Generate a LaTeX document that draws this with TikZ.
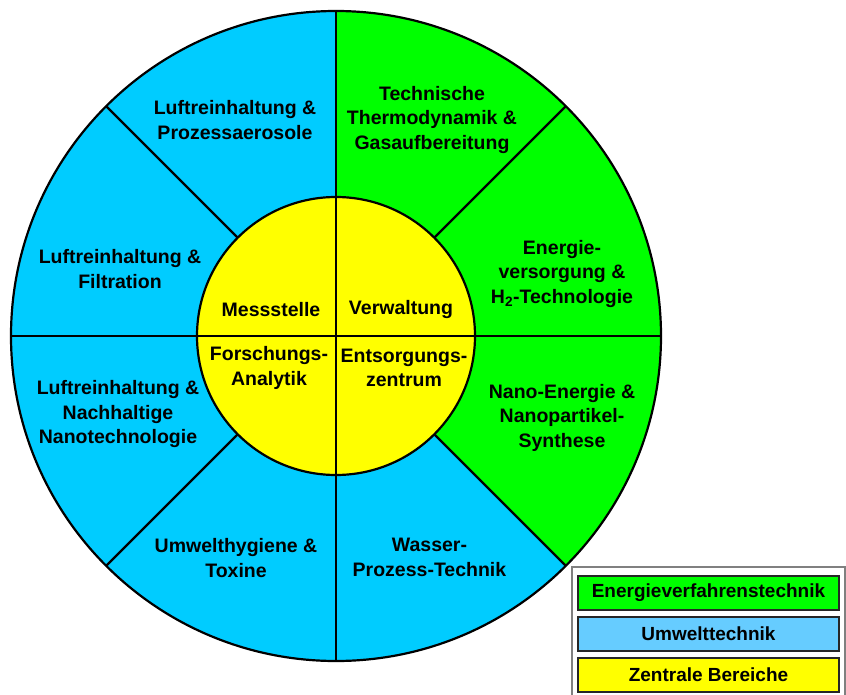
\documentclass[tikz,border=0pt]{standalone}
\usepackage{fontspec}
\setmainfont{Liberation Sans}
\definecolor{diskblue}{RGB}{0,204,255}
\definecolor{diskgreen}{RGB}{0,255,0}
\definecolor{diskyellow}{RGB}{255,255,0}
\definecolor{legblue}{RGB}{102,204,255}
\begin{document}
\begin{tikzpicture}[x=1pt,y=1pt,
  seg/.style={line width=2.2pt, draw=black},
  lbl/.style={align=center, font=\fontsize{19.5}{24.5}\selectfont\bfseries, inner sep=0pt},
  legbox/.style={draw=black!85, line width=1.6pt, minimum width=261pt, minimum height=34pt, inner sep=0pt, font=\fontsize{19}{23}\selectfont\bfseries}]
\useasboundingbox (-336,-358) rectangle (510,336);
\def\Rout{325}
\def\Rin{139}
% sectors
\fill[diskblue] (0,0) -- (90:\Rout) arc[start angle=90,end angle=315,radius=\Rout] -- cycle;
\fill[diskgreen] (0,0) -- (-45:\Rout) arc[start angle=-45,end angle=90,radius=\Rout] -- cycle;
\foreach \a in {45,135,225,315} \draw[seg] (\a:\Rin) -- (\a:\Rout);
\draw[seg, fill=diskyellow] (0,0) circle[radius=\Rin];
\draw[seg] (0,-\Rout) -- (0,\Rout);
\draw[seg] (-\Rout,0) -- (\Rout,0);
\draw[seg] (0,0) circle[radius=\Rout];
% outer labels
\node[lbl] (tl) at (-101,216) {Luftreinhaltung \&\\Prozessaerosole};
\node[lbl] (tr) at (96,216) {Technische\\Thermodynamik \&\\Gasaufbereitung};
\node[lbl] (ml) at (-216,67) {Luftreinhaltung \&\\Filtration};
\node[lbl] (mr) at (226,62.5) {Energie-\\versorgung \&\\H\textsubscript{2}-Technologie};
\node[lbl] (ll) at (-218,-78) {Luftreinhaltung \&\\Nachhaltige\\Nanotechnologie};
\node[lbl] (lr) at (226,-81.5) {Nano-Energie \&\\Nanopartikel-\\Synthese};
\node[lbl] (bl) at (-100,-222) {Umwelthygiene \&\\Toxine};
\node[lbl] (br) at (93.5,-221.5) {Wasser-\\Prozess-Technik};
% inner labels
\node[lbl] (mess) at (-65,26.4) {Messstelle};
\node[lbl] (verw) at (65,26.4) {Verwaltung};
\node[lbl] (fors) at (-67,-32) {Forschungs-\\Analytik};
\node[lbl] (ents) at (68,-32) {Entsorgungs-\\zentrum};
% legend
\draw[draw=black!50, line width=1.8pt] (236,-231) rectangle (509,-364);
\node[legbox, fill=diskgreen] (lgreen) at (372.5,-257) {Energieverfahrenstechnik};
\node[legbox, fill=legblue] (lblue) at (372.5,-298) {Umwelttechnik};
\node[legbox, fill=diskyellow] (lyellow) at (372.5,-339) {Zentrale Bereiche};
\end{tikzpicture}
\end{document}
